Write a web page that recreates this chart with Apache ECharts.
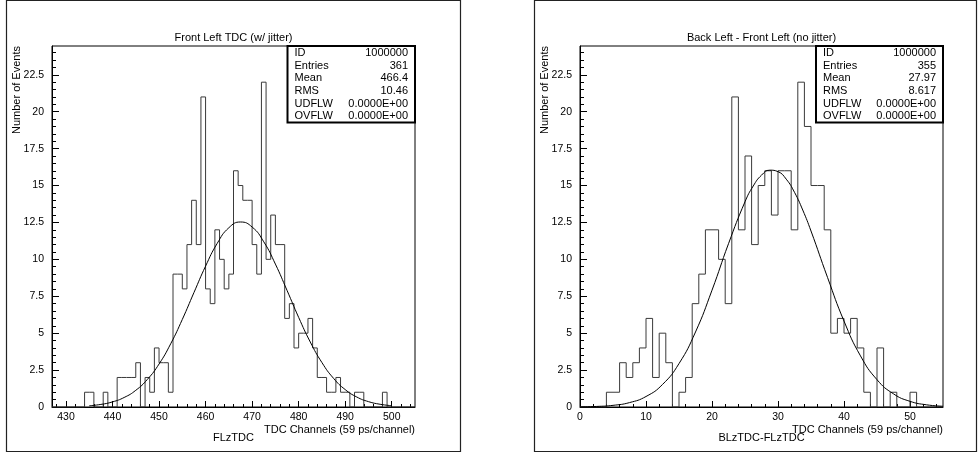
<!DOCTYPE html>
<html>
<head>
<meta charset="utf-8">
<script src="https://cdn.jsdelivr.net/npm/echarts@6/dist/echarts.min.js"></script>
<style>
  html, body { margin: 0; padding: 0; background: #fff; }
  #chart { width: 980px; height: 456px; }
</style>
</head>
<body>
<div id="chart"></div>
<script>
// ---- data ----
// left: FLzTDC, bins of width 1 starting at 427
const leftStart = 427;
const leftEnd = 505;
const leftCounts = [
  0, 0, 0, 0, 0, 0, 0, 1, 1, 0,      // 427-436
  0, 1, 0, 0, 2, 2, 2, 2, 3, 0,      // 437-446
  2, 1, 4, 3, 3, 1, 9, 9, 8, 11,     // 447-456
  14, 11, 21, 8, 7, 12, 10, 8, 9, 16,// 457-466
  15, 14, 14, 11, 9, 22, 10, 13, 11, 11, // 467-476
  6, 7, 4, 5, 5, 6, 4, 2, 2, 1,      // 477-486
  1, 2, 1, 1, 0, 1, 1, 0, 0, 0,      // 487-496
  0, 1, 0, 0, 0, 0, 0, 0             // 497-504
];
// fitted gaussian, read at regular steps along the drawn curve
const leftFitX = [435, 437.5, 440, 442.5, 445, 447.5, 450, 452.5, 455, 457.5, 460, 462.5, 465, 467.5,
  470, 472.5, 475, 477.5, 480, 482.5, 485, 487.5, 490, 492.5, 495, 497.5, 500];
const leftFitY = [0.084, 0.175, 0.346, 0.644, 1.13, 1.87, 2.91, 4.28, 5.93, 7.75, 9.54, 11.08, 12.14, 12.53,
  12.19, 11.19, 9.68, 7.90, 6.07, 4.40, 3.01, 1.94, 1.18, 0.675, 0.364, 0.185, 0.089];

// right: BLzTDC-FLzTDC, bins of width 1 starting at 0
const rightStart = 0;
const rightEnd = 55;
const rightCounts = [
  0, 0, 0, 0, 1, 1, 3, 2, 3, 4,      // 0-9
  6, 2, 5, 3, 0, 1, 2, 7, 9, 12,     // 10-19
  12, 10, 7, 21, 12, 17, 11, 15, 16, 13, // 20-29
  16, 16, 12, 22, 19, 15, 15, 12, 5, 6,  // 30-39
  5, 6, 4, 1, 0, 4, 0, 1, 0, 0,      // 40-49
  1, 0, 0, 0, 0                      // 50-54
];
const rightFitX = [0, 2.5, 5, 7.5, 10, 12.5, 15, 17.5, 20, 22.5, 25, 26.25, 27.5, 28.75, 30, 31.25,
  32.5, 33.75, 35, 37.5, 40, 42.5, 45, 47.5, 50, 52.5, 55];
const rightFitY = [0.012, 0.038, 0.112, 0.298, 0.711, 1.525, 2.94, 5.08, 7.91, 11.06, 13.90, 14.97, 15.70,
  16.04, 15.94, 15.43, 14.54, 13.34, 11.92, 8.78, 5.82, 3.46, 1.85, 0.89, 0.384, 0.149, 0.052];

const yMax = 24.45;
const yLabels = [0, 2.5, 5, 7.5, 10, 12.5, 15, 17.5, 20, 22.5];
const leftXLabels = [430, 440, 450, 460, 470, 480, 490, 500];
const rightXLabels = [0, 10, 20, 30, 40, 50];

const statNames = ['ID', 'Entries', 'Mean', 'RMS', 'UDFLW', 'OVFLW'];
const leftStats = ['1000000', '361', '466.4', '10.46', '0.0000E+00', '0.0000E+00'];
const rightStats = ['1000000', '355', '27.97', '8.617', '0.0000E+00', '0.0000E+00'];

// ---- helpers ----
const FONT = 'Liberation Sans';

function minorList(from, to, step) {
  const out = [];
  for (let v = from; v <= to + 1e-9; v += step) out.push(+v.toFixed(2));
  return out;
}

function stepData(start, end, counts) {
  const d = counts.map((c, i) => [start + i, c]);
  d.push([end, 0]);
  return d;
}

function pairs(xs, ys) {
  return xs.map((x, i) => [x, ys[i]]);
}

function xMajor(grid, min, max, ticks) {
  return {
    type: 'value', gridIndex: grid, min: min, max: max, position: 'bottom',
    axisLine: { show: true, onZero: false, lineStyle: { color: '#000', width: 1 } },
    axisTick: { show: true, inside: true, length: 6, customValues: ticks, lineStyle: { color: '#000' } },
    axisLabel: { customValues: ticks, margin: 5, color: '#000', fontSize: 10.5, fontFamily: FONT },
    splitLine: { show: false }
  };
}
function xMinor(grid, min, max, ticks) {
  return {
    type: 'value', gridIndex: grid, min: min, max: max, position: 'bottom',
    axisLine: { show: false },
    axisTick: { show: true, inside: true, length: 3, customValues: ticks, lineStyle: { color: '#000' } },
    axisLabel: { show: false },
    splitLine: { show: false }
  };
}
function yMajor(grid) {
  return {
    type: 'value', gridIndex: grid, min: 0, max: yMax, position: 'left',
    axisLine: { show: true, onZero: false, lineStyle: { color: '#000', width: 1 } },
    axisTick: { show: true, inside: true, length: 7, customValues: yLabels, lineStyle: { color: '#000' } },
    axisLabel: { customValues: yLabels, margin: 8, color: '#000', fontSize: 10.5, fontFamily: FONT },
    splitLine: { show: false }
  };
}
function yMinor(grid) {
  return {
    type: 'value', gridIndex: grid, min: 0, max: yMax, position: 'left',
    axisLine: { show: false },
    axisTick: { show: true, inside: true, length: 4, customValues: minorList(0.5, 24, 0.5), lineStyle: { color: '#000' } },
    axisLabel: { show: false },
    splitLine: { show: false }
  };
}

function txt(x, y, s, align, extra) {
  return Object.assign({
    type: 'text', x: x, y: y, z: 10,
    style: { text: s, fill: '#000', font: '11px "' + FONT + '"', textAlign: align || 'left', textVerticalAlign: 'middle' }
  }, extra || {});
}

function statsBox(x0, x1, y0, values) {
  const items = [{
    type: 'rect', z: 9,
    shape: { x: x0, y: y0, width: x1 - x0, height: 76.5 },
    style: { fill: '#fff', stroke: '#000', lineWidth: 2 }
  }];
  statNames.forEach((n, i) => {
    const y = y0 + 7 + i * 12.67;
    items.push(txt(x0 + 7, y, n, 'left'));
    items.push(txt(x1 - 7, y, values[i], 'right'));
  });
  return items;
}

function panel(frameX, frameW, gx, gw, title, xname, varname) {
  const cx = gx + gw / 2;
  return [
    { type: 'rect', z: 1, shape: { x: frameX, y: 0.5, width: frameW, height: 451 },
      style: { fill: 'none', stroke: '#222', lineWidth: 1.2 } },
    txt(cx, 38, title, 'center'),
    txt(gx - 35, 46, 'Number of Events', 'right', { rotation: Math.PI / 2 }),
    txt(gx + gw, 430, xname, 'right'),
    txt(cx, 438, varname, 'center')
  ];
}

const chart = echarts.init(document.getElementById('chart'), null, { renderer: 'canvas' });

const option = {
  animation: false,
  backgroundColor: '#fff',
  grid: [
    { left: 52, top: 46, width: 363, height: 361, show: true, borderColor: '#000', borderWidth: 1, backgroundColor: 'transparent' },
    { left: 580, top: 46, width: 363, height: 361, show: true, borderColor: '#000', borderWidth: 1, backgroundColor: 'transparent' }
  ],
  xAxis: [
    xMajor(0, leftStart, leftEnd, leftXLabels),
    xMinor(0, leftStart, leftEnd, minorList(428, 504, 2)),
    xMajor(1, rightStart, rightEnd, rightXLabels),
    xMinor(1, rightStart, rightEnd, minorList(2, 54, 2))
  ],
  yAxis: [yMajor(0), yMinor(0), yMajor(1), yMinor(1)],
  series: [
    {
      type: 'line', xAxisIndex: 0, yAxisIndex: 0, step: 'end', showSymbol: false,
      lineStyle: { color: '#3a3a3a', width: 1 }, data: stepData(leftStart, leftEnd, leftCounts)
    },
    {
      type: 'line', xAxisIndex: 0, yAxisIndex: 0, smooth: 0.5, showSymbol: false,
      lineStyle: { color: '#000', width: 1 }, data: pairs(leftFitX, leftFitY)
    },
    {
      type: 'line', xAxisIndex: 2, yAxisIndex: 2, step: 'end', showSymbol: false,
      lineStyle: { color: '#3a3a3a', width: 1 }, data: stepData(rightStart, rightEnd, rightCounts)
    },
    {
      type: 'line', xAxisIndex: 2, yAxisIndex: 2, smooth: 0.5, showSymbol: false,
      lineStyle: { color: '#000', width: 1 }, data: pairs(rightFitX, rightFitY)
    }
  ],
  graphic: [].concat(
    panel(6.5, 454, 52, 363, 'Front Left TDC (w/ jitter)', 'TDC Channels (59 ps/channel)', 'FLzTDC'),
    panel(534.5, 442, 580, 363, 'Back Left - Front Left (no jitter)', 'TDC Channels (59 ps/channel)', 'BLzTDC-FLzTDC'),
    statsBox(287.5, 415, 46, leftStats),
    statsBox(816, 943, 46, rightStats)
  )
};

chart.setOption(option);
</script>
</body>
</html>
